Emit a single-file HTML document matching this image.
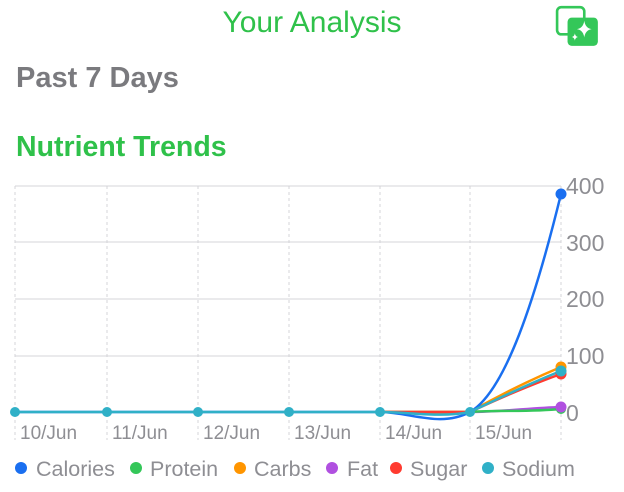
<!DOCTYPE html>
<html><head><meta charset="utf-8"><style>
body{margin:0;width:624px;height:492px;background:#fff;overflow:hidden;font-family:"Liberation Sans",sans-serif;position:relative}
.t{position:absolute;white-space:nowrap}
</style></head><body>
<div class="t" style="left:0;width:624px;text-align:center;top:6px;font-size:30px;color:#2fc14a">Your Analysis</div>
<svg style="position:absolute;left:555px;top:5px" width="46" height="42" viewBox="0 0 44 40">
<rect x="2" y="2" width="26" height="26" rx="4" fill="none" stroke="#34c759" stroke-width="2.5"/>
<rect x="12" y="12" width="29" height="27" rx="4" fill="#34c759"/>
<path d="M28 15 Q29 22 35 23 Q29 24 28 31 Q27 24 21 23 Q27 22 28 15Z" fill="#fff"/>
<path d="M19 27 Q19.5 30 22 30.5 Q19.5 31 19 34 Q18.5 31 16 30.5 Q18.5 30 19 27Z" fill="#fff"/>
</svg>
<div class="t" style="left:16px;top:62px;font-size:29px;font-weight:bold;color:#7a7a7e">Past 7 Days</div>
<div class="t" style="left:16px;top:131px;font-size:28.5px;font-weight:bold;color:#2fc14a">Nutrient Trends</div>
<svg style="position:absolute;left:0;top:0" width="624" height="492">
<g stroke="#e3e3e6" stroke-width="1.5">
<line x1="15" y1="186" x2="561" y2="186"/><line x1="15" y1="242" x2="561" y2="242"/>
<line x1="15" y1="299" x2="561" y2="299"/><line x1="15" y1="356" x2="561" y2="356"/>
</g>
<g stroke="#d4d4d8" stroke-width="1" stroke-dasharray="3,3">
<line x1="15" y1="186" x2="15" y2="440"/><line x1="107" y1="186" x2="107" y2="440"/>
<line x1="198" y1="186" x2="198" y2="440"/><line x1="289" y1="186" x2="289" y2="440"/>
<line x1="380" y1="186" x2="380" y2="440"/><line x1="470" y1="186" x2="470" y2="440"/>
<line x1="561" y1="186" x2="561" y2="440"/>
</g>
<g font-size="23" fill="#8e8e93">
<text x="566" y="194">400</text><text x="566" y="251">300</text><text x="566" y="307">200</text><text x="566" y="364">100</text><text x="566" y="421">0</text>
</g>
<g font-size="19" fill="#8e8e93">
<text x="20" y="439">10/Jun</text><text x="112" y="439">11/Jun</text><text x="203" y="439">12/Jun</text><text x="294" y="439">13/Jun</text><text x="385" y="439">14/Jun</text><text x="475" y="439">15/Jun</text>
</g>
<g fill="none" stroke-width="2.5">
<path d="M380 412 C420 412 450 412 470 412 C500 412 530 408 561 407" stroke="#b050e0"/>
<path d="M380 412 L470 412 C500 410 530 412 561 409" stroke="#34c759"/>
<path d="M380 412 L470 412 C500 395 530 380 561 367" stroke="#ff9500"/>
<path d="M380 412 L470 412 C500 398 530 385 561 374" stroke="#ff3b30"/>
<path d="M15 412 L380 412 C410 412 440 428 470 412 C505 392 535 300 561 194" stroke="#1a6ff0"/>
<path d="M15 412 L380 412 C410 412 440 418 470 412 C500 398 530 383 561 371" stroke="#30b0c7"/>
</g>
<g>
<circle cx="561" cy="194" r="5.5" fill="#1a6ff0"/>
<circle cx="561" cy="367" r="5.5" fill="#ff9500"/>
<circle cx="561" cy="374" r="5.5" fill="#ff3b30"/>
<circle cx="561" cy="371" r="5.5" fill="#30b0c7"/>
<circle cx="561" cy="409" r="5" fill="#34c759"/>
<circle cx="561" cy="407" r="5.5" fill="#b050e0"/>
<g fill="#30b0c7"><circle cx="15" cy="412" r="5"/><circle cx="107" cy="412" r="5"/><circle cx="198" cy="412" r="5"/><circle cx="289" cy="412" r="5"/><circle cx="380" cy="412" r="5"/><circle cx="470" cy="412" r="5"/></g>
</g>
<g font-size="21.5" fill="#8e8e93">
<circle cx="21" cy="468" r="6" fill="#1a6ff0"/><text x="36" y="476">Calories</text>
<circle cx="136" cy="468" r="6" fill="#34c759"/><text x="150" y="476">Protein</text>
<circle cx="240" cy="468" r="6" fill="#ff9500"/><text x="254" y="476">Carbs</text>
<circle cx="332" cy="468" r="6" fill="#b050e0"/><text x="347" y="476">Fat</text>
<circle cx="396" cy="468" r="6" fill="#ff3b30"/><text x="410" y="476">Sugar</text>
<circle cx="488" cy="468" r="6" fill="#30b0c7"/><text x="502" y="476">Sodium</text>
</g>
</svg>
</body></html>
